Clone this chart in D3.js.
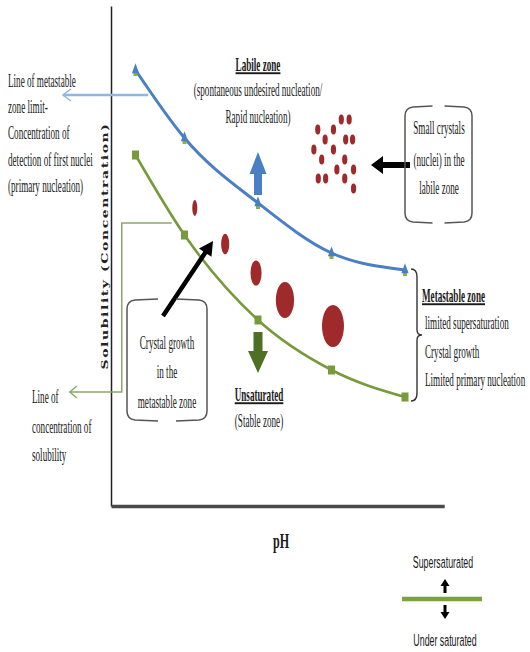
<!DOCTYPE html>
<html>
<head>
<meta charset="utf-8">
<script src="https://cdn.jsdelivr.net/npm/d3@7"></script>
<style>
  body { margin: 0; background: #fff; }
  svg { display: block; }
</style>
</head>
<body>
<svg id="chart"></svg>
<script>
// pH positions of the measured points
const pH = [2, 3, 4.5, 6, 7.5];
// metastable zone limit (first nuclei detected)
const metastableLimit = [8.72, 7.36, 6.06, 5.06, 4.72];
// solubility line
const solubility = [7.02, 5.42, 3.72, 2.72, 2.18];

// growing crystals in the metastable zone
const crystalPH = [3.21, 3.83, 4.46, 5.05, 6.03];
const crystalConc = [5.96, 5.24, 4.66, 4.12, 3.6];
const crystalSize = [1, 2.6, 4.8, 13, 19];

// small nuclei in the labile zone
const nucleiPH = [5.72, 6.20, 6.36, 6.04, 5.87, 6.29, 6.43, 5.64, 6.04, 5.80, 6.27, 6.11, 6.45, 5.73, 5.88, 6.27, 6.45];
const nucleiConc = [7.53, 7.73, 7.73, 7.53, 7.33, 7.33, 7.33, 7.13, 7.13, 6.93, 6.93, 6.73, 6.73, 6.55, 6.55, 6.55, 6.35];

const width = 530, height = 652;
const blue = "#4a7fc3", green = "#779a3b", red = "#9e2a2b";
const sx = 0.48; // texts in the picture are squeezed horizontally

const svg = d3.select("#chart").attr("width", width).attr("height", height);

const x = d3.scaleLinear().domain([1.5, 8.3]).range([111, 444.2]);
const y = d3.scaleLinear().domain([0, 10]).range([506, 6]);

// axes (no ticks, just the lines)
svg.append("g")
  .attr("transform", "translate(111,0)")
  .call(d3.axisLeft(y).ticks(0).tickSizeOuter(0))
  .call(g => g.select(".domain").attr("stroke", "#222").attr("stroke-width", 1.5));
svg.append("g")
  .attr("transform", "translate(0,506)")
  .call(d3.axisBottom(x).ticks(0).tickSizeOuter(0))
  .call(g => g.select(".domain").attr("stroke", "#4a4a4a").attr("stroke-width", 3.5));

function label(txt, px, py, opts) {
  opts = opts || {};
  return svg.append("text")
    .attr("transform", `translate(${px},${py}) scale(${opts.sx || sx},1)`)
    .attr("text-anchor", opts.anchor || "start")
    .attr("font-family", opts.family || "Liberation Serif")
    .attr("font-size", opts.size || 19)
    .attr("font-weight", opts.bold ? "bold" : "normal")
    .attr("text-decoration", opts.underline ? "underline" : "none")
    .attr("fill", opts.color || "#1a1a1a")
    .text(txt);
}

// y axis title
svg.append("text")
  .attr("transform", "translate(108,246) rotate(-90) scale(1,0.62)")
  .attr("text-anchor", "middle")
  .attr("font-family", "DejaVu Serif")
  .attr("font-weight", "bold")
  .attr("font-size", 14)
  .attr("letter-spacing", 1.6)
  .attr("fill", "#222")
  .text("Solubility (Concentration)");

label("pH", 281, 548, {anchor: "middle", size: 22, bold: true, sx: 0.55});

// connector lines to the side notes
svg.append("path")
  .attr("d", d3.line()([[x(2.26), y(8.22)], [x(0.52), y(8.22)]]))
  .attr("stroke", "#8fb6e2").attr("stroke-width", 2.5).attr("fill", "none");
svg.append("path")
  .attr("d", d3.line()([[x(0.52) + 8, y(8.22) - 6], [x(0.52), y(8.22)], [x(0.52) + 8, y(8.22) + 6]]))
  .attr("stroke", "#8fb6e2").attr("stroke-width", 1.5).attr("fill", "none");

svg.append("path")
  .attr("d", d3.line()([[x(2.74), y(5.66)], [x(1.72), y(5.66)], [x(1.72), y(2.28)], [x(0.66), y(2.28)]]))
  .attr("stroke", "#8aa86a").attr("stroke-width", 1.5).attr("fill", "none");
svg.append("path")
  .attr("d", d3.line()([[x(0.66) + 7, y(2.28) - 6], [x(0.66), y(2.28)], [x(0.66) + 7, y(2.28) + 6]]))
  .attr("stroke", "#8aa86a").attr("stroke-width", 1.5).attr("fill", "none");

// curves
const curve = d3.line().x((d, i) => x(pH[i])).y(d => y(d)).curve(d3.curveMonotoneX);
svg.append("path").datum(solubility)
  .attr("d", curve).attr("fill", "none").attr("stroke", green).attr("stroke-width", 2.6);
svg.append("path").datum(metastableLimit)
  .attr("d", curve).attr("fill", "none").attr("stroke", blue).attr("stroke-width", 3);

svg.selectAll(".sq").data(solubility).enter().append("rect")
  .attr("x", (d, i) => x(pH[i]) - 3.5).attr("y", d => y(d) - 4.5)
  .attr("width", 7).attr("height", 9).attr("fill", green);
svg.selectAll(".sq2").data(metastableLimit).enter().append("rect")
  .attr("x", (d, i) => x(pH[i]) - 2).attr("y", d => y(d) + 1)
  .attr("width", 4).attr("height", 5).attr("fill", "#8db04a");
svg.selectAll(".tri").data(metastableLimit).enter().append("path")
  .attr("transform", (d, i) => `translate(${x(pH[i])},${y(d)}) scale(0.75,1.2)`)
  .attr("d", d3.symbol(d3.symbolTriangle, 40)).attr("fill", blue);

// crystals
const rScale = d3.scaleSqrt().domain([0, 19]).range([0, 11]);
svg.selectAll(".crystal").data(crystalSize).enter().append("ellipse")
  .attr("cx", (d, i) => x(crystalPH[i])).attr("cy", (d, i) => y(crystalConc[i]))
  .attr("rx", d => rScale(d)).attr("ry", d => rScale(d) * 1.55 + 4)
  .attr("fill", red);
svg.selectAll(".nucleus").data(nucleiPH).enter().append("ellipse")
  .attr("cx", d => x(d)).attr("cy", (d, i) => y(nucleiConc[i]))
  .attr("rx", 2.6).attr("ry", 5).attr("fill", red);

// block arrows
function blockArrow(x0, y0, x1, y1, shaft, headW, headL, color) {
  const a = Math.atan2(y1 - y0, x1 - x0), L = Math.hypot(x1 - x0, y1 - y0);
  const pts = [[0, -shaft / 2], [L - headL, -shaft / 2], [L - headL, -headW / 2], [L, 0],
    [L - headL, headW / 2], [L - headL, shaft / 2], [0, shaft / 2]];
  svg.append("path")
    .attr("transform", `translate(${x0},${y0}) rotate(${a * 180 / Math.PI})`)
    .attr("d", d3.line()(pts) + "Z").attr("fill", color);
}
blockArrow(x(4.5), y(6.22), x(4.5), y(7.08), 8, 17, 22, blue);
blockArrow(x(4.5), y(3.48), x(4.5), y(2.66), 9, 20, 22, "#4f6f25");
blockArrow(163, 316, 213, 241, 4.5, 15, 14, "#000");
blockArrow(410, 165, 371, 165, 6, 18, 12, "#000");

// side boxes with a gap in the top and bottom edges
function scrollBox(x0, y0, x1, y1, gap) {
  const xm = (x0 + x1) / 2, r = 8;
  const p = d3.path();
  p.moveTo(xm - gap, y0); p.lineTo(x0 + r, y0 + 1); p.quadraticCurveTo(x0, y0 + 2, x0, y0 + r + 2);
  p.lineTo(x0, y1 - r - 2); p.quadraticCurveTo(x0, y1 - 2, x0 + r, y1 - 1); p.lineTo(xm - gap, y1);
  p.moveTo(xm + gap, y0); p.lineTo(x1 - r, y0 + 1); p.quadraticCurveTo(x1, y0 + 2, x1, y0 + r + 2);
  p.lineTo(x1, y1 - r - 2); p.quadraticCurveTo(x1, y1 - 2, x1 - r, y1 - 1); p.lineTo(xm + gap, y1);
  svg.append("path").attr("d", p.toString())
    .attr("fill", "none").attr("stroke", "#555").attr("stroke-width", 1.5);
}
scrollBox(405, 106, 472, 223, 6);
scrollBox(127, 299, 207, 421, 9);

// metastable bracket
const bx = 411, bt = 269, bb = 401, bm = 335;
svg.append("path")
  .attr("d", `M${bx},${bt} Q${bx + 6},${bt} ${bx + 6},${bt + 8} L${bx + 6},${bm - 5} Q${bx + 6},${bm} ${bx + 11},${bm}` +
    ` Q${bx + 6},${bm} ${bx + 6},${bm + 5} L${bx + 6},${bb - 8} Q${bx + 6},${bb} ${bx},${bb}`)
  .attr("fill", "none").attr("stroke", "#333").attr("stroke-width", 1.4);

// texts
[["Line of metastable", 87], ["zone limit-", 113], ["Concentration of", 139],
 ["detection of first nuclei", 166], ["(primary nucleation)", 192]]
  .forEach(d => label(d[0], 8, d[1]));
[["Line of", 403], ["concentration of", 433], ["solubility", 461]]
  .forEach(d => label(d[0], 32, d[1]));

label("Labile zone", 258, 71, {anchor: "middle", bold: true, underline: true});
label("(spontaneous undesired nucleation/", 258, 96, {anchor: "middle"});
label("Rapid nucleation)", 258, 123, {anchor: "middle"});

[["Small crystals", 134], ["(nuclei) in the", 166], ["labile zone", 194]]
  .forEach(d => label(d[0], 439, d[1], {anchor: "middle"}));
[["Crystal growth", 349], ["in the", 378], ["metastable zone", 408]]
  .forEach(d => label(d[0], 167, d[1], {anchor: "middle"}));

label("Unsaturated", 259, 401, {anchor: "middle", bold: true, underline: true});
label("(Stable zone)", 259, 427, {anchor: "middle"});

label("Metastable zone", 422, 302, {bold: true, underline: true});
label("limited supersaturation", 425, 329);
label("Crystal  growth", 425, 358);
label("Limited primary nucleation", 425, 386);

// legend
label("Supersaturated", 443, 568, {anchor: "middle", family: "Liberation Sans", size: 17, sx: 0.52});
label("Under saturated", 445, 646, {anchor: "middle", family: "Liberation Sans", size: 17, sx: 0.52});
svg.append("line").attr("x1", 402).attr("x2", 482).attr("y1", 599).attr("y2", 599)
  .attr("stroke", "#7aa23f").attr("stroke-width", 4.5);
blockArrow(445, 593, 445, 579, 3, 9, 7, "#000");
blockArrow(445, 605, 445, 619, 3, 9, 7, "#000");
</script>
</body>
</html>
